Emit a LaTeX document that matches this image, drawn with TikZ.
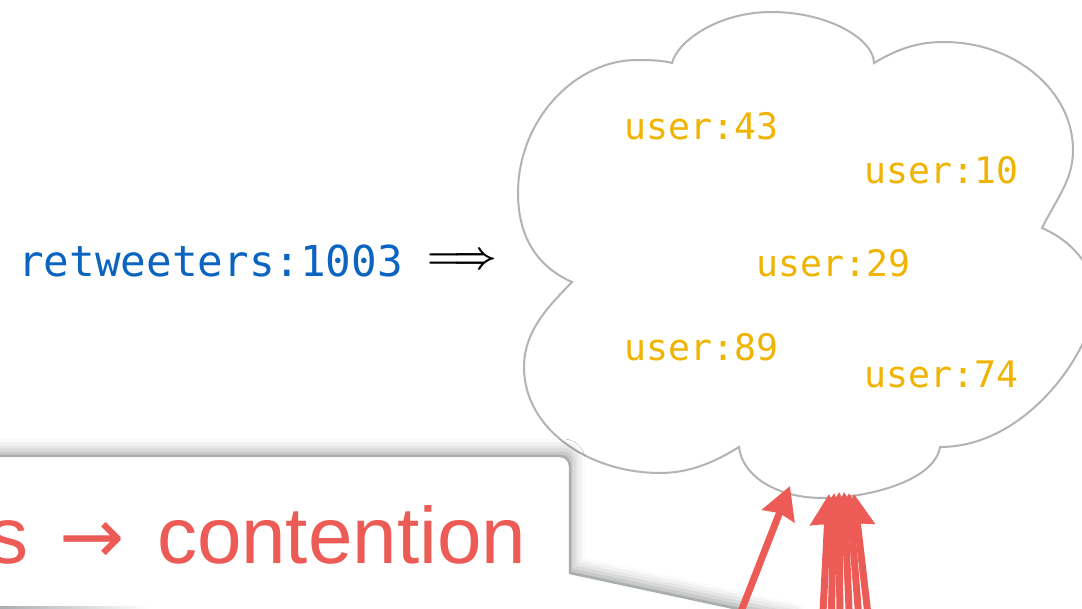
\RequirePackage{fix-cm}
\documentclass[tikz,border=0pt]{standalone}
\usepackage{fontspec}
\setmainfont{Liberation Sans}
\newfontfamily\monofont{DejaVu Sans Mono}
\newfontfamily\arrowglyphs{DejaVu Sans}
\usetikzlibrary{arrows.meta,shadows.blur}
\definecolor{keyblue}{HTML}{0A64C0}
\definecolor{useryellow}{HTML}{F0B400}
\definecolor{alertred}{HTML}{EC5B56}
\definecolor{cloudgray}{HTML}{B3B3B3}
\definecolor{boxgray}{HTML}{A9AEAE}
\begin{document}
\begin{tikzpicture}[x=1pt,y=-1pt,
  keylabel/.style={font=\monofont\fontsize{42.6}{48}\selectfont, text=keyblue, inner sep=0pt, anchor=base west},
  userlabel/.style={font=\monofont\fontsize{36.5}{42}\selectfont, text=useryellow, inner sep=0pt, anchor=base west},
  cloudline/.style={draw=cloudgray, line width=2pt, fill=white},
  calloutbox/.style={draw=boxgray, line width=2.5pt, fill=white,
    blur shadow={shadow xshift=4pt, shadow yshift=6pt, shadow blur radius=11pt, shadow opacity=30}},
  hotarrow/.style={draw=alertred, line width=7pt, -{Stealth[length=32pt,width=34pt,inset=3pt]}},
]
\useasboundingbox (0,0) rectangle (1082,609);

% key and the arrow pointing to its set
\node[keylabel] (key) at (18,277) {retweeters:1003};
\node[inner sep=0pt, font=\fontsize{38}{42}\selectfont\boldmath] (maps) at (462,261) {$\Longrightarrow$};

% the set, drawn as a cloud
\path[cloudline] (672,63)
  .. controls (678,40) and (720,12) .. (771,12)
  .. controls (830,12) and (874,40) .. (874,63)
  .. controls (899,48) and (919,42) .. (944,42)
  .. controls (1015,42) and (1073,91) .. (1073,150)
  .. controls (1073,180) and (1057,198) .. (1042,228)
  .. controls (1070,240) and (1095,265) .. (1095,300)
  .. controls (1095,345) and (1030,447) .. (940,447)
  .. controls (935,480) and (870,498) .. (823,498)
  .. controls (775,498) and (742,475) .. (739,447)
  .. controls (715,462) and (690,473) .. (660,473)
  .. controls (590,473) and (524,430) .. (524,367)
  .. controls (524,330) and (550,305) .. (572,282)
  .. controls (540,268) and (518,240) .. (518,193)
  .. controls (518,120) and (575,60) .. (637,60)
  .. controls (655,60) and (665,61) .. (672,63) -- cycle;

% members of the set
\node[userlabel] (u43) at (624,140) {user:43};
\node[userlabel] (u10) at (864,184) {user:10};
\node[userlabel] (u29) at (756,277) {user:29};
\node[userlabel] (u89) at (624,361) {user:89};
\node[userlabel] (u74) at (864,388) {user:74};

% callout with its tail
\path[calloutbox] (-40,456) [rounded corners=10pt] -- (570,456) -- (570,520) [sharp corners]
  -- (570,573) -- (790,620) -- (790,660) -- (-40,660) -- cycle;
\shade[left color=boxgray, right color=white] (0,606) rectangle (150,609);
\node[anchor=base west, inner sep=0pt, text=alertred, font=\fontsize{80}{90}\selectfont]
  (claim) at (-12,563) {s\kern9pt\ {\arrowglyphs\fontsize{78}{90}\selectfont →}\kern10pt\ contention};

% concurrent writers hitting the set
\coordinate (d0) at (733,632);
\coordinate (d1) at (790,486);
\draw[hotarrow] (d0) -- (d1);
\foreach \i/\sx/\tx/\ty in {1/822/829/494, 2/831/834/493, 3/840/839/492, 4/850/844/492, 5/860/849/493, 6/870/854/494} {
  \coordinate (w\i) at (\sx,632);
  \coordinate (h\i) at (\tx,\ty);
  \draw[hotarrow] (w\i) -- (h\i);
}
\end{tikzpicture}
\end{document}
